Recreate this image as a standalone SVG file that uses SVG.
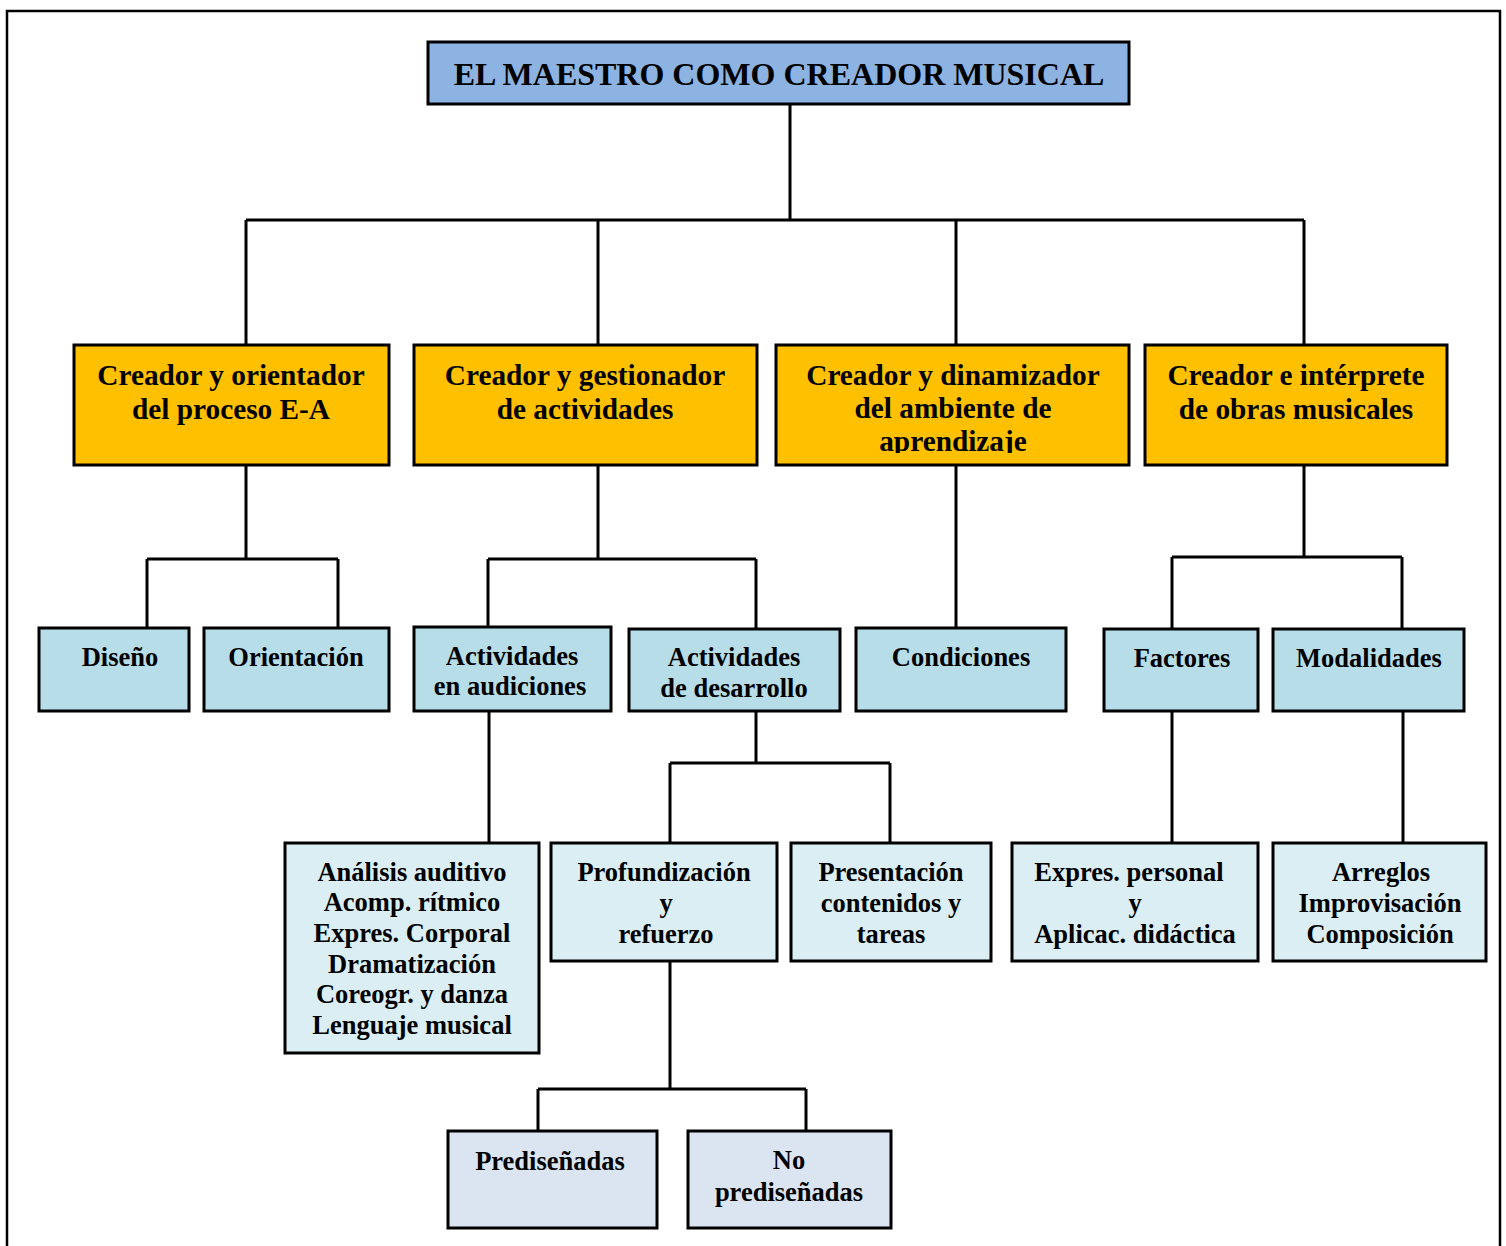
<svg xmlns="http://www.w3.org/2000/svg" width="1506" height="1246" viewBox="0 0 1506 1246">
  <style>
    .frame { fill: none; stroke: #000; stroke-width: 2.5; }
    .box { stroke: #000; stroke-width: 3; }
    .title { fill: #8DB3E2; }
    .l1 { fill: #FFC000; }
    .l2 { fill: #B7DDE8; }
    .l3 { fill: #DAEEF3; }
    .l4 { fill: #DBE5F1; }
    .conn { fill: none; stroke: #000; stroke-width: 3; }
    text { font-family: "Liberation Serif", "Times New Roman", serif; font-weight: bold; fill: #000; text-anchor: middle; }
    .t0 { font-size: 32px; }
    .t1 { font-size: 29.3px; }
    .t2 { font-size: 26.5px; }
  </style>
  <defs>
    <!-- third line of the "dinamizador" box is cut off by its text frame -->
    <clipPath id="clipC">
      <rect x="778" y="347" width="349" height="106"/>
    </clipPath>
  </defs>

  <rect width="1506" height="1246" fill="#fff"/>
  <!-- outer frame -->
  <path class="frame" d="M7,1250 V11 H1500 V1250"/>

  <!-- connectors -->
  <g id="connectors">
    <path class="conn" d="M790,104 V220 M246,220 H1304 M246,220 V345 M598,220 V345 M956,220 V345 M1304,220 V345"/>
    <path class="conn" d="M246,465 V559 M147,559 H338 M147,559 V628 M338,559 V628"/>
    <path class="conn" d="M598,465 V559 M488,559 H756 M488,559 V627 M756,559 V629"/>
    <path class="conn" d="M956,465 V628"/>
    <path class="conn" d="M1304,465 V557 M1172,557 H1402 M1172,557 V629 M1402,557 V629"/>
    <path class="conn" d="M489,711 V843"/>
    <path class="conn" d="M756,711 V763 M670,763 H890 M670,763 V843 M890,763 V843"/>
    <path class="conn" d="M1172,711 V843"/>
    <path class="conn" d="M1403,711 V843"/>
    <path class="conn" d="M670,961 V1089 M538,1089 H806 M538,1089 V1131 M806,1089 V1131"/>
  </g>

  <!-- root -->
  <g id="root">
    <rect class="box title" x="428" y="42" width="701" height="62"/>
    <text class="t0" x="779" y="85">EL MAESTRO COMO CREADOR MUSICAL</text>
  </g>

  <!-- first level -->
  <g id="orientador">
    <rect class="box l1" x="74" y="345" width="315" height="120"/>
    <text class="t1" x="231" y="385">Creador y orientador</text>
    <text class="t1" x="231" y="419">del proceso E-A</text>
  </g>
  <g id="gestionador">
    <rect class="box l1" x="414" y="345" width="343" height="120"/>
    <text class="t1" x="585" y="385">Creador y gestionador</text>
    <text class="t1" x="585" y="419">de actividades</text>
  </g>
  <g id="dinamizador">
    <rect class="box l1" x="776" y="345" width="353" height="120"/>
    <g clip-path="url(#clipC)">
      <text class="t1" x="953" y="385">Creador y dinamizador</text>
      <text class="t1" x="953" y="418">del ambiente de</text>
      <text class="t1" x="953" y="451">aprendizaje</text>
    </g>
  </g>
  <g id="interprete">
    <rect class="box l1" x="1145" y="345" width="302" height="120"/>
    <text class="t1" x="1296" y="385">Creador e intérprete</text>
    <text class="t1" x="1296" y="419">de obras musicales</text>
  </g>

  <!-- second level -->
  <g id="diseno">
    <rect class="box l2" x="39" y="628" width="150" height="83"/>
    <text class="t2" x="120" y="666">Diseño</text>
  </g>
  <g id="orientacion">
    <rect class="box l2" x="204" y="628" width="185" height="83"/>
    <text class="t2" x="296" y="666">Orientación</text>
  </g>
  <g id="audiciones">
    <rect class="box l2" x="414" y="627" width="197" height="84"/>
    <text class="t2" x="512" y="665">Actividades</text>
    <text class="t2" x="510" y="695">en audiciones</text>
  </g>
  <g id="desarrollo">
    <rect class="box l2" x="629" y="629" width="211" height="82"/>
    <text class="t2" x="734" y="666">Actividades</text>
    <text class="t2" x="734" y="697">de desarrollo</text>
  </g>
  <g id="condiciones">
    <rect class="box l2" x="856" y="628" width="210" height="83"/>
    <text class="t2" x="961" y="666">Condiciones</text>
  </g>
  <g id="factores">
    <rect class="box l2" x="1104" y="629" width="154" height="82"/>
    <text class="t2" x="1182" y="667">Factores</text>
  </g>
  <g id="modalidades">
    <rect class="box l2" x="1273" y="629" width="191" height="82"/>
    <text class="t2" x="1369" y="667">Modalidades</text>
  </g>

  <!-- third level -->
  <g id="actividades-audicion">
    <rect class="box l3" x="285" y="843" width="254" height="210"/>
    <text class="t2" x="412" y="881">Análisis auditivo</text>
    <text class="t2" x="412" y="911">Acomp. rítmico</text>
    <text class="t2" x="412" y="942">Expres. Corporal</text>
    <text class="t2" x="412" y="973">Dramatización</text>
    <text class="t2" x="412" y="1003">Coreogr. y danza</text>
    <text class="t2" x="412" y="1034">Lenguaje musical</text>
  </g>
  <g id="profundizacion">
    <rect class="box l3" x="551" y="843" width="226" height="118"/>
    <text class="t2" x="664" y="881">Profundización</text>
    <text class="t2" x="666" y="912">y</text>
    <text class="t2" x="666" y="943">refuerzo</text>
  </g>
  <g id="presentacion">
    <rect class="box l3" x="791" y="843" width="200" height="118"/>
    <text class="t2" x="891" y="881">Presentación</text>
    <text class="t2" x="891" y="912">contenidos y</text>
    <text class="t2" x="891" y="943">tareas</text>
  </g>
  <g id="expresion">
    <rect class="box l3" x="1012" y="843" width="246" height="118"/>
    <text class="t2" x="1129" y="881">Expres. personal</text>
    <text class="t2" x="1135" y="912">y</text>
    <text class="t2" x="1135" y="943">Aplicac. didáctica</text>
  </g>
  <g id="creacion">
    <rect class="box l3" x="1273" y="843" width="213" height="118"/>
    <text class="t2" x="1381" y="881">Arreglos</text>
    <text class="t2" x="1380" y="912">Improvisación</text>
    <text class="t2" x="1380" y="943">Composición</text>
  </g>

  <!-- fourth level -->
  <g id="prediseñadas">
    <rect class="box l4" x="448" y="1131" width="209" height="97"/>
    <text class="t2" x="550" y="1170">Prediseñadas</text>
  </g>
  <g id="no-prediseñadas">
    <rect class="box l4" x="688" y="1131" width="203" height="97"/>
    <text class="t2" x="789" y="1169">No</text>
    <text class="t2" x="789" y="1201">prediseñadas</text>
  </g>
</svg>
